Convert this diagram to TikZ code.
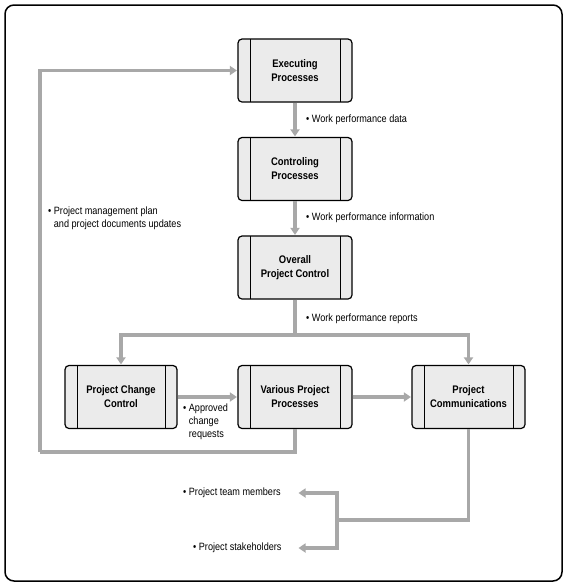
\documentclass[tikz,border=0pt]{standalone}
\usepackage{fontspec}
\setmainfont{Liberation Sans}[FakeStretch=0.86]
\usetikzlibrary{arrows.meta}
\definecolor{conn}{HTML}{A8A8A8}
\definecolor{boxfill}{HTML}{EBEBEB}
\tikzset{
  procbox/.style={draw=black, line width=1.2pt, fill=boxfill, rounded corners=4pt,
    minimum width=114pt, minimum height=63pt, align=center,
    font=\fontsize{11}{14}\selectfont\bfseries,
    path picture={
      \draw[line width=0.8pt] ([xshift=12pt]path picture bounding box.north west) -- ([xshift=12pt]path picture bounding box.south west);
      \draw[line width=0.8pt] ([xshift=-12pt]path picture bounding box.north east) -- ([xshift=-12pt]path picture bounding box.south east);
    }},
  conline/.style={draw=conn, line width=3.5pt},
  conarrow/.style={conline, -{Triangle[width=9pt,length=7pt]}, shorten >=0.5pt},
  lbl/.style={anchor=west, align=left, inner sep=0pt, font=\fontsize{10.6}{13}\selectfont},
}
\begin{document}
\begin{tikzpicture}[x=1pt,y=-1pt]
\useasboundingbox (0,0) rectangle (569,587);
\draw[line width=1.5pt, rounded corners=9pt] (5,5) rectangle (562,581);

\node[procbox] (exec) at (295,70.5) {Executing\\Processes};
\node[procbox] (ctrl) at (295,169) {Controling\\Processes};
\node[procbox] (over) at (295,267.5) {Overall\\Project Control};
\node[procbox, minimum width=112pt] (pcc) at (121,397) {Project Change\\Control};
\node[procbox] (var) at (295,397) {Various Project\\Processes};
\node[procbox, minimum width=113pt] (comm) at (468.5,397) {Project\\Communications};

\coordinate (split) at (295,335);
\coordinate (fb) at (40,452);
\coordinate (cj) at (337,520);
\coordinate (tmA) at (298,493);
\coordinate (shA) at (298,548);

\draw[conarrow] (exec) -- (ctrl);
\draw[conarrow] (ctrl) -- (over);
\draw[conline] (over.south) -- (split);
\draw[conarrow] (split) -| (pcc.north);
\draw[conarrow] (split) -| (comm.north);
\draw[conarrow] (pcc) -- (var);
\draw[conarrow] (var) -- (comm);
\draw[conline] (var.south) |- (fb);
\draw[conarrow] (fb) |- (exec.west);
\draw[conline] (comm.south) |- (cj);
\draw[conarrow] (cj) |- (tmA);
\draw[conarrow] (cj) |- (shA);

\node[lbl] (l1) at (306,120) {• Work performance data};
\node[lbl] (l2) at (306,218) {• Work performance information};
\node[lbl] (l3) at (306,319) {• Work performance reports};
\node[lbl] (l4) at (48,218.5) {• Project management plan\\\hphantom{• }and project documents updates};
\node[lbl] (l5) at (183,422) {• Approved\\\hphantom{• }change\\\hphantom{• }requests};
\node[lbl] (l6) at (183,493) {• Project team members};
\node[lbl] (l7) at (193,548) {• Project stakeholders};
\end{tikzpicture}
\end{document}
